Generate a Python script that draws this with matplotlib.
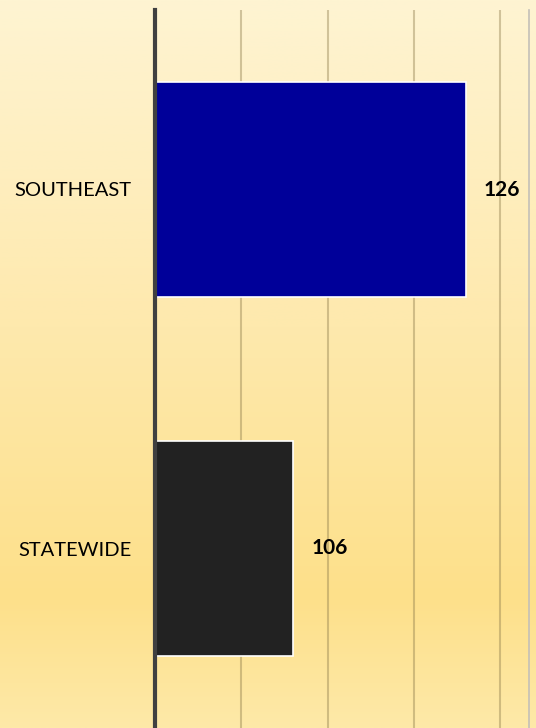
import matplotlib.pyplot as plt
import numpy as np
from matplotlib.colors import LinearSegmentedColormap

# data
regions = ["SOUTHEAST", "STATEWIDE"]
values = [126, 106]
bar_colors = ["#000099", "#222222"]

plt.rcParams['font.family'] = ['Lato', 'DejaVu Sans']

fig = plt.figure(figsize=(5.36, 7.28), dpi=100)

# background gradient (light top, deeper yellow low down, lighter at bottom)
bg = fig.add_axes([0, 0, 1, 1], zorder=0)
grad = LinearSegmentedColormap.from_list(
    "bg", [(0.0, "#fef4d2"), (0.45, "#fee9ad"), (0.82, "#fde08a"), (1.0, "#fee9a8")])
bg.imshow(np.linspace(0, 1, 256).reshape(-1, 1), aspect="auto", cmap=grad,
          extent=[0, 1, 0, 1], origin="upper")
bg.axis("off")

W, H = 536, 728
ax = fig.add_axes([155 / W, 0, (529 - 155) / W, (H - 10) / H], zorder=1)
ax.patch.set_alpha(0)

y = np.arange(len(regions))
bars = ax.barh(y, values, height=0.6, color=bar_colors, edgecolor="white",
               linewidth=1.2, zorder=3)

ax.set_xlim(90, 133.3)
ax.set_ylim(1.5, -0.5)
ax.set_xticks([100, 110, 120, 130])
ax.xaxis.grid(True, color="#8c7a4a", alpha=0.4, linewidth=1.5, zorder=1)
ax.tick_params(axis="x", length=0, labelbottom=False)
ax.set_yticks(y)
ax.set_yticklabels(regions, fontsize=14.5)
ax.tick_params(axis="y", length=0, pad=17)

for s in ["top", "bottom"]:
    ax.spines[s].set_visible(False)
ax.spines["left"].set_color("#404040")
ax.spines["left"].set_linewidth(3)
ax.spines["left"].set_zorder(4)
ax.spines["right"].set_color("#c4c0b8")
ax.spines["right"].set_linewidth(1.2)

for b, v in zip(bars, values):
    ax.annotate(str(v), (b.get_width(), b.get_y() + b.get_height() / 2),
                xytext=(13, 0), textcoords="offset points", va="center",
                ha="left", fontsize=15, fontweight="bold", zorder=5)

fig.savefig("out.png", dpi=100)
